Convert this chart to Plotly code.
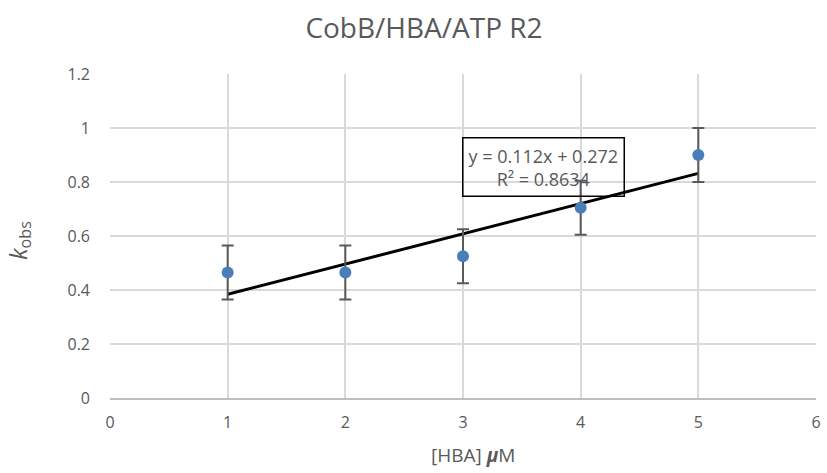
import plotly.graph_objects as go

# HBA concentration (µM) and observed rate constants
hba_conc = [1, 2, 3, 4, 5]
k_obs = [0.465, 0.465, 0.525, 0.705, 0.90]
k_err = [0.10, 0.10, 0.10, 0.10, 0.10]

# linear trendline reported on the chart
slope = 0.112
intercept = 0.272
r_squared = 0.8634

x_ticks = [0, 1, 2, 3, 4, 5, 6]
y_ticks = [0, 0.2, 0.4, 0.6, 0.8, 1, 1.2]
y_tick_text = ["0", "0.2", "0.4", "0.6", "0.8", "1", "1.2"]

font_family = "Open Sans, Noto Sans, sans-serif"
grey = "#595959"

W, H = 827, 473
L, R, T, B = 110, 6, 74, 75
plot_w, plot_h = W - L - R, H - T - B


def px_to_paper(px, py):
    return (px - L) / plot_w, (H - B - py) / plot_h


fit_x = [min(hba_conc), max(hba_conc)]
fit_y = [slope * x + intercept for x in fit_x]

fig = go.Figure()
fig.add_trace(go.Scatter(
    x=fit_x, y=fit_y, mode="lines",
    line=dict(color="black", width=3),
    hoverinfo="skip", showlegend=False,
))
fig.add_trace(go.Scatter(
    x=hba_conc, y=k_obs, mode="markers",
    marker=dict(color="#4a7ebb", size=12),
    error_y=dict(type="data", array=k_err, visible=True,
                 color=grey, thickness=2, width=6),
    showlegend=False,
))

bx, by = px_to_paper(547, 167)
fig.add_annotation(
    xref="paper", yref="paper", x=bx, y=by,
    xanchor="center", yanchor="middle",
    text=f"y = {slope}x + {intercept}<br>R² = {r_squared}",
    showarrow=False, align="center",
    font=dict(family=font_family, size=18, color=grey),
    bordercolor="black", borderwidth=1.5, borderpad=5, bgcolor="rgba(0,0,0,0)",
)
yx, yy = px_to_paper(18, 241)
fig.add_annotation(
    xref="paper", yref="paper", x=yx, y=yy,
    text="<i>k</i><sub>obs</sub>", textangle=-90, showarrow=False,
    xanchor="center", yanchor="middle",
    font=dict(family=font_family, size=23, color=grey),
)
xx, xy = px_to_paper(476, 455)
fig.add_annotation(
    xref="paper", yref="paper", x=xx, y=xy,
    text="[HBA] <b><i>μ</i></b>M", showarrow=False,
    xanchor="center", yanchor="middle",
    font=dict(family=font_family, size=19, color=grey),
)

fig.update_layout(
    width=W, height=H,
    margin=dict(l=L, r=R, t=T, b=B),
    paper_bgcolor="white", plot_bgcolor="white",
    title=dict(text="CobB/HBA/ATP R2", x=424 / W, xanchor="center",
               y=1 - 28 / H, yanchor="middle",
               font=dict(family=font_family, size=28, color=grey)),
    font=dict(family=font_family, size=16, color=grey),
    xaxis=dict(range=[0, 6], tickvals=x_ticks, showgrid=True,
               gridcolor="#d9d9d9", gridwidth=2, zeroline=False,
               showline=True, linecolor="#bfbfbf", linewidth=2,
               ticks="", ticklabelstandoff=9),
    yaxis=dict(range=[0, 1.2], tickvals=y_ticks, ticktext=y_tick_text,
               showgrid=True, gridcolor="#d9d9d9", gridwidth=2,
               zeroline=False, showline=False, ticks="",
               ticklabelstandoff=19),
)

fig.write_html("out.html")
